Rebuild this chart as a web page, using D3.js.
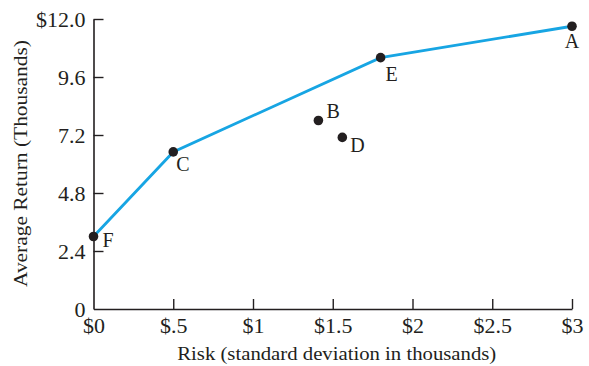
<!DOCTYPE html>
<html><head><meta charset="utf-8">
<script src="https://cdn.jsdelivr.net/npm/d3@7"></script>
<style>
html,body{margin:0;padding:0;background:#fff;}
svg{display:block;}
text{font-family:"Liberation Serif","Times New Roman",serif;fill:#231f20;}
</style></head>
<body>
<svg id="c" width="589" height="366"></svg>
<script>
// data
const names = ["A","B","C","D","E","F"];
const risk = [3.0, 1.41, 0.5, 1.56, 1.8, 0.0];
const avgReturn = [11.7, 7.8, 6.5, 7.1, 10.4, 3.0];
const frontier = ["F","C","E","A"];
const xTicks = [0, 0.5, 1, 1.5, 2, 2.5, 3];
const xTickLabels = ["$0","$.5","$1","$1.5","$2","$2.5","$3"];
const yTicks = [0, 2.4, 4.8, 7.2, 9.6, 12.0];
const yTickLabels = ["0","2.4","4.8","7.2","9.6","$12.0"];

// label placement (layout only)
const labelOffset = {A:[0,22,"middle"],B:[8,-3,"start"],C:[3,19,"start"],D:[8,15,"start"],E:[5,23,"start"],F:[9,10,"start"]};

const svg = d3.select("#c");
const m = {l:93.5, r:572, t:19, b:309};
const x = d3.scaleLinear().domain([0,3]).range([m.l, m.r]);
const y = d3.scaleLinear().domain([0,12]).range([m.b, m.t]);
const ink = "#231f20";
const stretch = 1.1;

function widen(sel){
  sel.each(function(){
    const w = this.getComputedTextLength();
    d3.select(this).attr("textLength", w*stretch).attr("lengthAdjust","spacingAndGlyphs");
  });
}

// x axis
const xa = svg.append("g").attr("transform",`translate(0,${m.b})`)
  .call(d3.axisBottom(x).tickValues(xTicks).tickSize(-10).tickSizeOuter(0)
    .tickFormat((d,i)=>xTickLabels[i]));
xa.select(".domain").attr("stroke",ink).attr("stroke-width",1.6);
xa.selectAll(".tick line").attr("stroke",ink).attr("stroke-width",1.4);
xa.selectAll(".tick text").attr("font-size",20).attr("y",10).attr("dy","0.71em")
  .attr("font-family","Liberation Serif").attr("fill",ink).call(widen);

// y axis
const ya = svg.append("g").attr("transform",`translate(${m.l},0)`)
  .call(d3.axisLeft(y).tickValues(yTicks).tickSize(-10).tickSizeOuter(0)
    .tickFormat((d,i)=>yTickLabels[i]));
ya.select(".domain").attr("stroke",ink).attr("stroke-width",1.6);
ya.selectAll(".tick line").attr("stroke",ink).attr("stroke-width",1.4);
ya.selectAll(".tick text").attr("font-size",20).attr("x",-8).attr("dy","0.38em")
  .attr("font-family","Liberation Serif").attr("fill",ink).call(widen);
ya.selectAll(".tick").filter(d=>d===0).select("line").remove();
xa.selectAll(".tick").filter(d=>d===0).select("line").remove();

// frontier line
const pts = names.map((n,i)=>({n, r:risk[i], v:avgReturn[i]}));
const byName = Object.fromEntries(pts.map(p=>[p.n,p]));
svg.append("path")
  .datum(frontier.map(n=>byName[n]))
  .attr("fill","none").attr("stroke","#17a5e3").attr("stroke-width",2.8)
  .attr("d", d3.line().x(d=>x(d.r)).y(d=>y(d.v)));

// points
svg.selectAll("circle.p").data(pts).join("circle")
  .attr("cx",d=>x(d.r)).attr("cy",d=>y(d.v)).attr("r",4.8).attr("fill",ink);

svg.selectAll("text.lbl").data(pts).join("text").attr("class","lbl")
  .attr("x",d=>x(d.r)+labelOffset[d.n][0]).attr("y",d=>y(d.v)+labelOffset[d.n][1])
  .attr("text-anchor",d=>labelOffset[d.n][2]).attr("font-size",20).text(d=>d.n);

// axis titles
svg.append("text").attr("x",(m.l+m.r)/2 + 4).attr("y",359.5).attr("text-anchor","middle")
  .attr("font-size",19.5).attr("textLength",319).attr("lengthAdjust","spacingAndGlyphs")
  .text("Risk (standard deviation in thousands)");
svg.append("text").attr("transform",`translate(27,163.5) rotate(-90)`)
  .attr("text-anchor","middle").attr("font-size",19.5).attr("textLength",247).attr("lengthAdjust","spacingAndGlyphs")
  .text("Average Return (Thousands)");
</script>
</body></html>
